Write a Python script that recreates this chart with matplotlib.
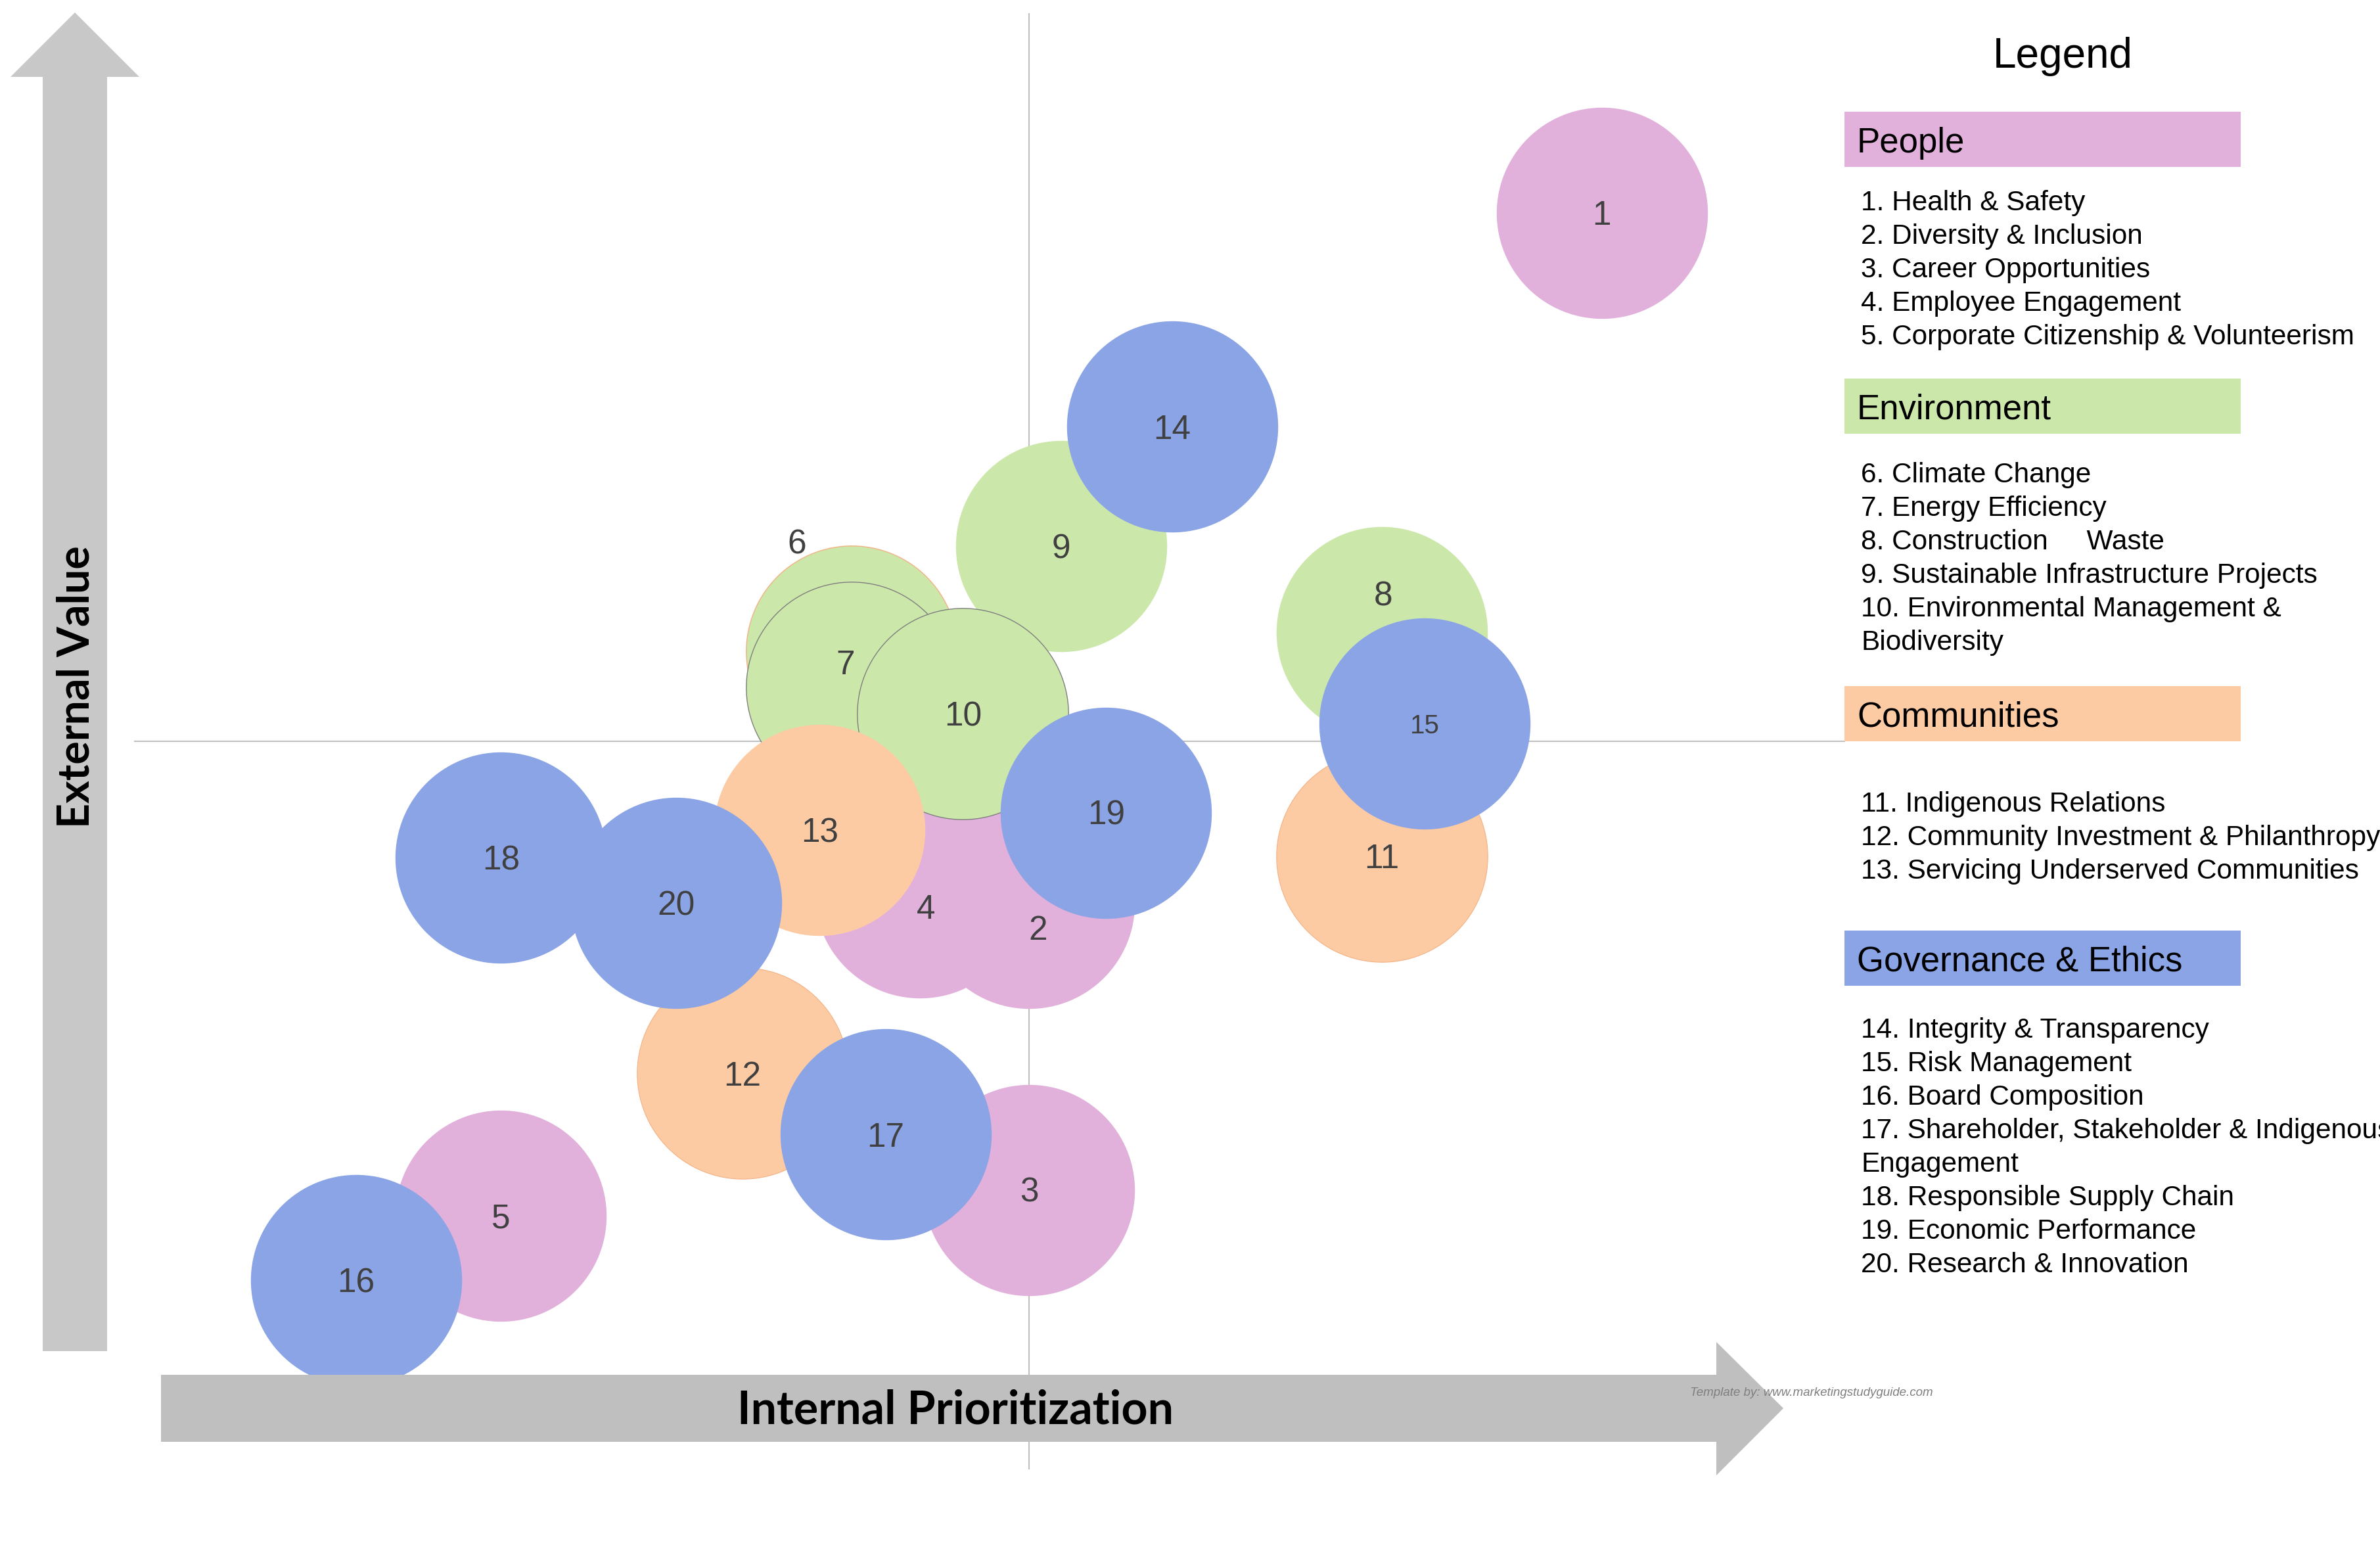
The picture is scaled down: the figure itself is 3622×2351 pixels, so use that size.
import matplotlib
matplotlib.use("Agg")
import matplotlib.pyplot as plt
from matplotlib.patches import Polygon, Rectangle

# ---- data (scores 0-10, quadrant split at 5) ----
issue_id = list(range(1, 21))
internal = [8.20, 5.00, 5.00, 4.39, 2.05, 4.01, 4.01, 6.97, 5.18, 4.63,
            6.97, 3.40, 3.83, 5.80, 7.21, 1.24, 4.20, 2.05, 5.43, 3.03]
external = [8.63, 3.89, 1.92, 3.96, 1.74, 5.62, 5.37, 5.75, 6.34, 5.19,
            4.21, 2.72, 4.39, 7.16, 5.12, 1.30, 2.30, 4.20, 4.51, 3.89]
category = (["People"] * 5 + ["Environment"] * 5 + ["Communities"] * 3
            + ["Governance & Ethics"] * 7)

groups = ["People", "Environment", "Communities", "Governance & Ethics"]
group_items = [
    ["1. Health & Safety", "2. Diversity & Inclusion", "3. Career Opportunities",
     "4. Employee Engagement", "5. Corporate Citizenship & Volunteerism"],
    ["6. Climate Change", "7. Energy Efficiency", "8. Construction     Waste",
     "9. Sustainable Infrastructure Projects", "10. Environmental Management &",
     "Biodiversity"],
    ["11. Indigenous Relations", "12. Community Investment & Philanthropy",
     "13. Servicing Underserved Communities"],
    ["14. Integrity & Transparency", "15. Risk Management", "16. Board Composition",
     "17. Shareholder, Stakeholder & Indigenous", "Engagement",
     "18. Responsible Supply Chain", "19. Economic Performance",
     "20. Research & Innovation"],
]

colors = {"People": "#E1B1DC", "Environment": "#CBE8AA",
          "Communities": "#FDCBA3", "Governance & Ethics": "#8BA4E6"}

# styling bits
edge = {6: ("#F4B183", 1.0), 7: ("#7F7F7F", 1.0), 10: ("#7F7F7F", 1.0),
        11: ("#F4B183", 0.8), 12: ("#F4B183", 0.8)}
label_offset = {2: (10, -27), 4: (7, -15), 6: (-60, 120), 7: (-7, 28), 8: (2, 42)}
label_size = {15: 29}

W, H = 3622, 2351
fig = plt.figure(figsize=(W / 100, H / 100), dpi=100)

# bubble area
ax = fig.add_axes([204 / W, 1 - 2236 / H, 2724 / W, 2216 / H])
ax.set_xlim(0, 10)
ax.set_ylim(0, 10)
ax.axis("off")
ax.patch.set_alpha(0)
ax.axvline(5, color="#C0C0C0", lw=1.5, zorder=0)
ax.plot([0, (2807 - 204) / 272.4], [5, 5], color="#C0C0C0", lw=1.5, zorder=0)

r_pt = 160.7 * 0.72
for k, (i, x, y, c) in enumerate(zip(issue_id, internal, external, category)):
    ec, lw = edge.get(i, (colors[c], 0))
    ax.scatter([x], [y], s=(2 * r_pt) ** 2, color=colors[c], edgecolors=ec,
               linewidths=lw, zorder=10 + 2 * k, clip_on=False)
    fs = label_size.get(i, 37)
    dx, dy = label_offset.get(i, (0, 0))
    # digits have no descent: sit the baseline half a digit height below centre
    ax.annotate(str(i), (x, y), xytext=(dx, dy - 0.358 * fs),
                textcoords="offset points", ha="center", va="baseline",
                fontsize=fs, color="#404040",
                family="Liberation Sans", zorder=11 + 2 * k)

# overlay in pixel units for arrows and legend
ov = fig.add_axes([0, 0, 1, 1], zorder=5)
ov.set_xlim(0, W)
ov.set_ylim(H, 0)
ov.axis("off")
ov.patch.set_alpha(0)

up = [(65, 2056), (65, 117), (16, 117), (114, 19), (212, 117), (163, 117), (163, 2056)]
right = [(245, 2092), (2612, 2092), (2612, 2042), (2714, 2143), (2612, 2245),
         (2612, 2194), (245, 2194)]
ov.add_patch(Polygon(up, closed=True, color="#C8C8C8", lw=0))
ov.add_patch(Polygon(right, closed=True, color="#BFBFBF", lw=0))

rend = fig.canvas.get_renderer()


def fit(t, target, vertical=False):
    bb = t.get_window_extent(renderer=rend)
    w = bb.height if vertical else bb.width
    t.set_fontsize(t.get_fontsize() * target / w)


t1 = ov.text(116, 1045, "External Value", rotation=90, ha="center", va="center",
             fontsize=44, fontweight="bold", family="Lato", color="black")
fit(t1, 430, vertical=True)
t2 = ov.text(1454, 2146, "Internal Prioritization", ha="center", va="center",
             fontsize=44, fontweight="bold", family="Lato", color="black")
fit(t2, 663)

ov.text(2757, 2120, "Template by: www.marketingstudyguide.com", ha="center",
        va="center", fontsize=13.5, style="italic", color="#7F7F7F",
        family="Liberation Sans")

# legend panel
ov.text(3139, 103, "Legend", ha="center", va="baseline", fontsize=46,
        family="Liberation Sans", color="black")
box_top = [170, 576, 1044, 1416]
first_line = [320, 734, 1235, 1579]
for g, top, base, items in zip(groups, box_top, first_line, group_items):
    ov.add_patch(Rectangle((2807, top), 603, 84, color=colors[g], lw=0))
    ov.text(2826, top + 62, g, va="baseline", fontsize=38,
            family="Liberation Sans", color="black")
    for j, s in enumerate(items):
        ov.text(2832, base + 51 * j, s, va="baseline", fontsize=30.5,
                family="Liberation Sans", color="black")

fig.savefig("out.png", dpi=100)
